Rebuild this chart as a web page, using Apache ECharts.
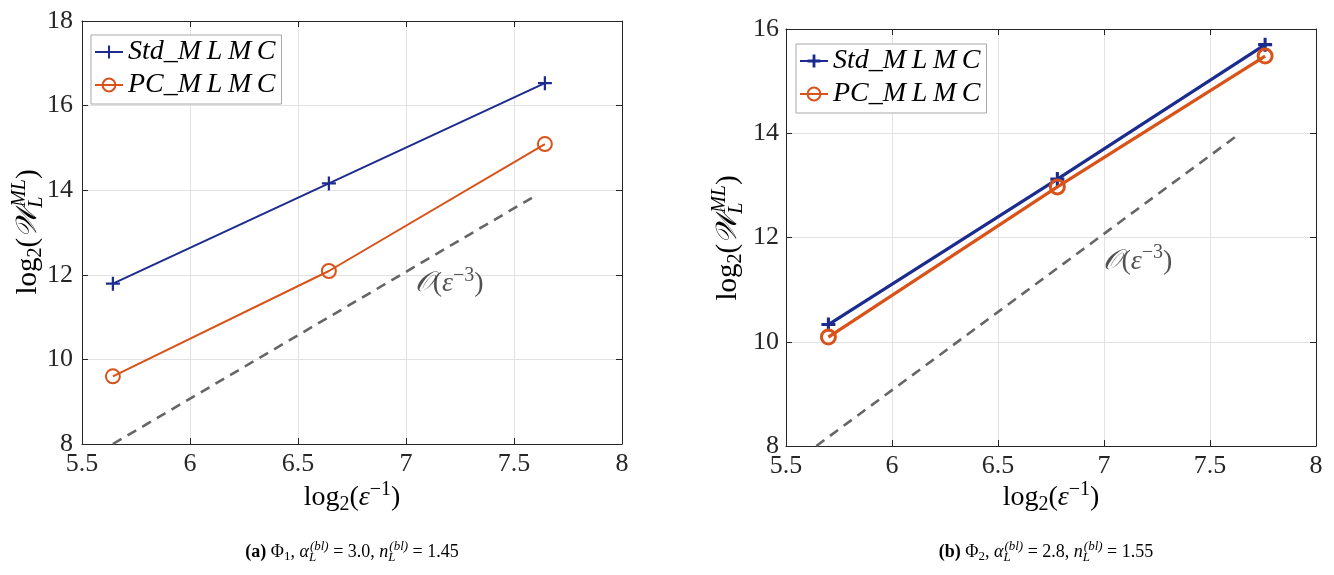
<!DOCTYPE html>
<html><head><meta charset="utf-8">
<script src="https://cdn.jsdelivr.net/npm/echarts@6/dist/echarts.min.js"></script>
<style>html,body{margin:0;padding:0;background:#fff}#c{width:1334px;height:575px}</style>
</head><body><div id="c"></div>
<script>
// ---- data ----
const xA = [5.643, 6.643, 7.643];
const stdA = [11.79, 14.16, 16.53];
const pcA = [9.60, 12.09, 15.09];
const refAx = [5.643, 7.603];
const refAy = [8.0, 13.88];
const xB = [5.70, 6.78, 7.76];
const stdB = [10.33, 13.12, 15.70];
const pcB = [10.09, 12.97, 15.48];
const refBx = [5.643, 7.643];
const refBy = [8.0, 14.0];
const xTicks = [5.5, 6, 6.5, 7, 7.5, 8];
const yTicksA = [8, 10, 12, 14, 16, 18];
const yTicksB = [8, 10, 12, 14, 16];
const annotA = [7.2, 11.78];
const annotB = [7.16, 11.54];
const seriesNames = ['Std_MLMC', 'PC_MLMC'];
const legendLabels = {'Std_MLMC': 'Std_M\u2009L\u2009M\u2009C', 'PC_MLMC': 'PC_M\u2009L\u2009M\u2009C'};

const zip = (xs, ys) => xs.map((x, i) => [x, ys[i]]);
const BLUE = '#1c2c8e', ORANGE = '#d95319', GRAY = '#666666', INK = '#262626';
const F = "'Liberation Serif','DejaVu Serif',serif";
const CROSS = 'path://M42,0H58V42H100V58H58V100H42V58H0V42H42Z';
const CROSS2 = 'path://M39,0H61V39H100V61H61V100H39V61H0V39H39Z';

const richMath = (fs) => ({
  m: {fontFamily: F, fontSize: fs, color: INK, align: 'left'},
  mi: {fontFamily: F, fontSize: fs, fontStyle: 'italic', color: INK, align: 'left'},
  cal: {fontFamily: "'DejaVu Serif','DejaVu Sans',serif", fontSize: fs, fontStyle: 'italic', color: INK, align: 'left'},
  sub: {fontFamily: F, fontSize: Math.round(fs * 0.7), color: INK, align: 'left', padding: [Math.round(fs * 0.5), 0, 0, 0]},
  subz: {fontFamily: F, fontSize: Math.round(fs * 0.7), fontStyle: 'italic', color: INK, width: 1, align: 'left', padding: [Math.round(fs * 0.6), 0, 0, 0]},
  sup: {fontFamily: F, fontSize: Math.round(fs * 0.7), color: INK, align: 'left', padding: [0, 0, Math.round(fs * 0.6), 0]},
  supi: {fontFamily: F, fontSize: Math.round(fs * 0.7), fontStyle: 'italic', color: INK, align: 'left', padding: [0, 0, Math.round(fs * 0.6), 0]},
  b: {fontFamily: F, fontSize: fs, fontWeight: 'bold', color: '#000', align: 'left'}
});

function xAx(grid, pos, show) {
  return {
    type: 'value', gridIndex: grid, position: pos, min: xTicks[0], max: xTicks[xTicks.length - 1], interval: 0.5,
    axisLine: {show: true, onZero: false, lineStyle: {color: INK, width: 1}},
    axisTick: {show: true, inside: true, length: 6, lineStyle: {color: INK, width: 1}},
    axisLabel: {show: show, color: INK, fontFamily: F, fontSize: 26, margin: 7, showMinLabel: true, showMaxLabel: true,
      formatter: v => String(v)},
    splitLine: {show: show, lineStyle: {color: '#e2e2e2', width: 1}}
  };
}
function yAx(grid, pos, show, ticks, margin) {
  return {
    type: 'value', gridIndex: grid, position: pos, min: ticks[0], max: ticks[ticks.length - 1], interval: 2,
    axisLine: {show: true, onZero: false, lineStyle: {color: INK, width: 1}},
    axisTick: {show: true, inside: true, length: 6, lineStyle: {color: INK, width: 1}},
    axisLabel: {show: show, color: INK, fontFamily: F, fontSize: 26, margin: margin, showMinLabel: true, showMaxLabel: true},
    splitLine: {show: show, lineStyle: {color: '#e2e2e2', width: 1}}
  };
}

function lineSeries(name, xs, ys, xi, yi, color, width, cross) {
  return {
    type: 'line', name: name, xAxisIndex: xi, yAxisIndex: yi, data: zip(xs, ys),
    symbol: cross ? (width > 2 ? CROSS2 : CROSS) : 'circle', symbolSize: 14, showSymbol: true,
    lineStyle: {color: color, width: width},
    itemStyle: cross ? {color: color} : {color: 'rgba(255,255,255,0)', borderColor: color, borderWidth: width > 2 ? 3 : 2},
    z: cross ? 3 : 4
  };
}
function refSeries(xs, ys, xi, yi) {
  return {type: 'line', name: 'ref', xAxisIndex: xi, yAxisIndex: yi, data: zip(xs, ys), symbol: 'none',
    lineStyle: {color: GRAY, width: 2.6, type: [10, 7]}, z: 2};
}
function annotSeries(pt, xi, yi) {
  return {type: 'scatter', name: 'annot', xAxisIndex: xi, yAxisIndex: yi, data: [pt], symbol: 'circle', symbolSize: 1,
    itemStyle: {color: 'rgba(0,0,0,0)'}, silent: true,
    label: {show: true, position: 'inside', formatter: '{cal|𝒪}{m|(}{mi|ε}{sup|−3}{m|)}', rich: richMath(28)}};
}

function legend(left, top, names) {
  return {
    show: true, orient: 'vertical', left: left, top: top, data: names,
    backgroundColor: '#fff', borderColor: '#a8a8a8', borderWidth: 1, borderRadius: 0,
    padding: [2, 6, 4, 3], itemGap: 3, itemWidth: 28, itemHeight: 16,
    formatter: n => legendLabels[n.replace('\u200b', '')],
    textStyle: {fontFamily: F, fontStyle: 'italic', fontSize: 28, color: '#000', lineHeight: 30}
  };
}

const chart = echarts.init(document.getElementById('c'), null, {renderer: 'canvas'});
const namesB = seriesNames.map(n => n + '\u200b');

chart.setOption({
  animation: false,
  backgroundColor: '#fff',
  grid: [
    {left: 82, top: 21, width: 540, height: 423, containLabel: false},
    {left: 786, top: 29, width: 530, height: 417, containLabel: false}
  ],
  xAxis: [xAx(0, 'bottom', true), xAx(0, 'top', false), xAx(1, 'bottom', true), xAx(1, 'top', false)],
  yAxis: [yAx(0, 'left', true, yTicksA, 9), yAx(0, 'right', false, yTicksA, 9),
          yAx(1, 'left', true, yTicksB, 7), yAx(1, 'right', false, yTicksB, 7)],
  legend: [legend(91, 35, seriesNames), legend(796, 44, namesB)],
  series: [
    refSeries(refAx, refAy, 0, 0),
    lineSeries(seriesNames[0], xA, stdA, 0, 0, BLUE, 2, true),
    lineSeries(seriesNames[1], xA, pcA, 0, 0, ORANGE, 2, false),
    annotSeries(annotA, 0, 0),
    refSeries(refBx, refBy, 2, 2),
    lineSeries(namesB[0], xB, stdB, 2, 2, BLUE, 3.2, true),
    lineSeries(namesB[1], xB, pcB, 2, 2, ORANGE, 3.2, false),
    annotSeries(annotB, 2, 2)
  ],
  graphic: [
    {type: 'text', x: 352, y: 498, style: {text: '{m|log}{sub|2}{m|(}{mi|ε}{sup|−1}{m|)}', rich: richMath(28), align: 'center', verticalAlign: 'middle'}},
    {type: 'text', x: 1051, y: 498, style: {text: '{m|log}{sub|2}{m|(}{mi|ε}{sup|−1}{m|)}', rich: richMath(28), align: 'center', verticalAlign: 'middle'}},
    {type: 'text', x: 28, y: 232, rotation: Math.PI / 2, style: {text: '{m|log}{sub|2}{m|(}{cal|𝒲}{subz|L}{supi|ML}{m|)}', rich: richMath(29), align: 'center', verticalAlign: 'middle'}},
    {type: 'text', x: 728, y: 238, rotation: Math.PI / 2, style: {text: '{m|log}{sub|2}{m|(}{cal|𝒲}{subz|L}{supi|ML}{m|)}', rich: richMath(29), align: 'center', verticalAlign: 'middle'}},
    {type: 'text', x: 352, y: 552, style: {text: '{b|(a)}{m| Φ}{sub|1}{m|, }{mi|α}{subz|L}{supi|(bl)}{m| = 3.0, }{mi|n}{subz|L}{supi|(bl)}{m| = 1.45}', rich: richMath(18), align: 'center', verticalAlign: 'middle'}},
    {type: 'text', x: 1046, y: 552, style: {text: '{b|(b)}{m| Φ}{sub|2}{m|, }{mi|α}{subz|L}{supi|(bl)}{m| = 2.8, }{mi|n}{subz|L}{supi|(bl)}{m| = 1.55}', rich: richMath(18), align: 'center', verticalAlign: 'middle'}}
  ]
});
</script>
</body></html>
